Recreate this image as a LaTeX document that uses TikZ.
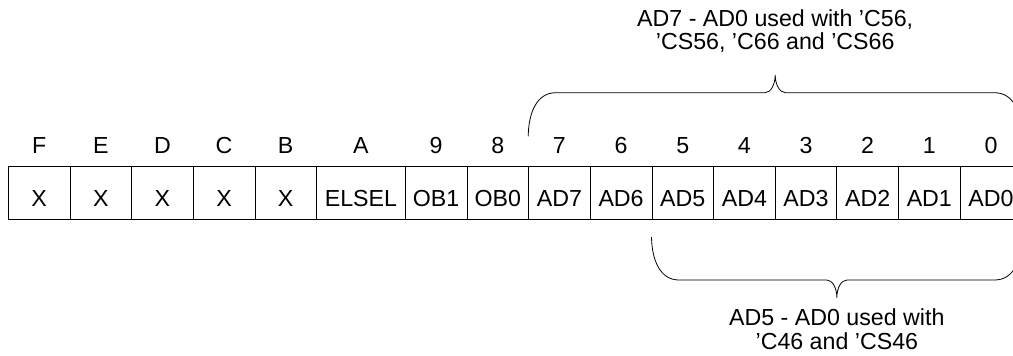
\documentclass[tikz,border=0pt]{standalone}
\usepackage{fontspec}
\setmainfont{Liberation Sans}
\newcommand\dfsz{\fontsize{23.2pt}{23.5pt}\selectfont}
\begin{document}
\begin{tikzpicture}[x=1pt,y=-1pt,
  cell/.style={draw=black, line width=0.8pt, minimum height=53pt, inner sep=0pt,
    text height=27.6pt, text depth=0pt, font=\dfsz},
  narrow/.style={cell, minimum width=61.65pt},
  bit/.style={anchor=base, inner sep=0pt, font=\dfsz},
  note/.style={align=center, inner sep=0pt, font=\dfsz},
  brace/.style={draw=black, line width=0.8pt}]
\useasboundingbox (0,0) rectangle (1013,356);
\clip (0,0) rectangle (1013,356);
% register cells
\node[narrow] (cF) at (39.13,192.5) {X};
\node[narrow] (cE) at (100.78,192.5) {X};
\node[narrow] (cD) at (162.43,192.5) {X};
\node[narrow] (cC) at (224.08,192.5) {X};
\node[narrow] (cB) at (285.73,192.5) {X};
\node[cell, minimum width=88.75pt] (cA) at (360.93,192.5) {ELSEL};
\node[narrow] (c9) at (436.13,192.5) {OB1};
\node[narrow] (c8) at (497.78,192.5) {OB0};
\node[narrow] (c7) at (559.43,192.5) {AD7};
\node[narrow] (c6) at (621.08,192.5) {AD6};
\node[narrow] (c5) at (682.73,192.5) {AD5};
\node[narrow] (c4) at (744.38,192.5) {AD4};
\node[narrow] (c3) at (806.03,192.5) {AD3};
\node[narrow] (c2) at (867.68,192.5) {AD2};
\node[narrow] (c1) at (929.33,192.5) {AD1};
\node[narrow] (c0) at (990.98,192.5) {AD0};
% bit numbers
\foreach \n/\t in {F/F,E/E,D/D,C/C,B/B,A/A,9/9,8/8,7/7,6/6,5/5,4/4,3/3,2/2,1/1,0/0}
  \node[bit] (b\n) at ([yshift=11.7pt]c\n.north) {\t};
% top brace
\coordinate (tl) at ([yshift=29.3pt]c7.north west);
\coordinate (tr) at ([yshift=29.3pt]c0.north east);
\coordinate (tt) at (775.2,75);
\draw[brace] (tl) .. controls (528.6,112) and (537,92.7) .. (556,92.7)
  -- (765,92.7) .. controls (771,92.7) and (775.2,84) .. (tt)
  .. controls (775.2,84) and (779.4,92.7) .. (785.4,92.7)
  -- (994.4,92.7) .. controls (1013.4,92.7) and (1021.8,112) .. (tr);
\node[note] (ttop) at (775.2,31) {AD7 - AD0 used with ’C56,\\’CS56, ’C66 and ’CS66};
% bottom brace
\coordinate (bl) at ([yshift=-17.7pt]c5.south west);
\coordinate (br) at ([yshift=-17.7pt]c0.south east);
\coordinate (bt) at (836.85,297.7);
\draw[brace] (bl) .. controls (651.9,260) and (660,280) .. (679,280)
  -- (826.6,280) .. controls (832.6,280) and (836.85,288) .. (bt)
  .. controls (836.85,288) and (841.1,280) .. (847.1,280)
  -- (994.7,280) .. controls (1013.7,280) and (1021.8,260) .. (br);
\node[note] (tbot) at (836.85,329) {AD5 - AD0 used with\\’C46 and ’CS46};
\end{tikzpicture}
\end{document}
